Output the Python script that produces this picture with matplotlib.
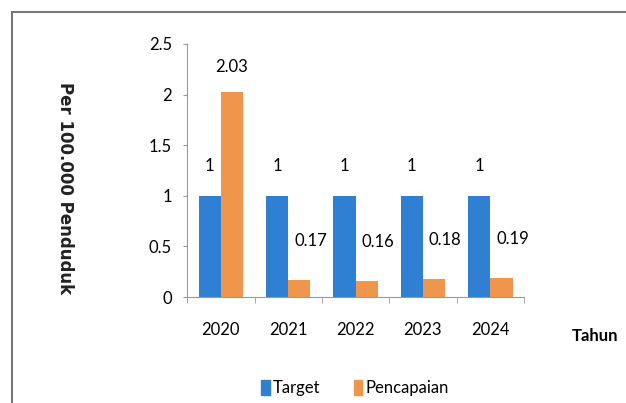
import matplotlib.pyplot as plt
import numpy as np
from matplotlib.patches import Rectangle

years = ['2020', '2021', '2022', '2023', '2024']
target = [1, 1, 1, 1, 1]
pencapaian = [2.03, 0.17, 0.16, 0.18, 0.19]

blue = '#2f80d2'
orange = '#f0964c'
narrow = ['Lato', 'DejaVu Sans']

fig = plt.figure(figsize=(6.26, 4.03), dpi=100)
fig.patches.append(Rectangle((12 / 626, -0.01), 0.99, 1 - 12 / 403 + 0.01,
                             transform=fig.transFigure, fill=False,
                             edgecolor='#777777', lw=1.5))

ax = fig.add_axes([0.299, 0.263, 0.538, 0.628])
x = np.arange(len(years))
w = 0.33
ax.bar(x - w / 2, target, w, color=blue)
ax.bar(x + w / 2, pencapaian, w, color=orange)

for i, v in enumerate(target):
    ax.annotate(f'{v}', (x[i] - w / 2, v), xytext=(0, 16), textcoords='offset points',
                ha='center', va='bottom', fontsize=12, family=narrow)
for i, v in enumerate(pencapaian):
    if v > 1:
        ax.annotate(f'{v:.2f}', (x[i] + w / 2, v), xytext=(0, 12), textcoords='offset points',
                    ha='center', va='bottom', fontsize=12, family=narrow)
    else:
        ax.annotate(f'{v:.2f}', (x[i] + w / 2, v), xytext=(8, 22), textcoords='offset points',
                    ha='center', va='bottom', fontsize=12, family=narrow)

ax.set_xlim(-0.5, 4.5)
ax.set_ylim(0, 2.5)
ax.set_yticks([0, 0.5, 1, 1.5, 2, 2.5])
ax.set_yticklabels(['0', '0.5', '1', '1.5', '2', '2.5'], family=narrow, fontsize=12)
ax.set_xticks(x)
ax.set_xticklabels(years, family=narrow, fontsize=12)
ax.set_xticks(np.arange(-0.5, 5, 1), minor=True)
ax.tick_params(axis='x', which='major', length=0, pad=18)
ax.tick_params(axis='x', which='minor', length=4, color='#999999')
ax.tick_params(axis='y', length=3, color='#999999', pad=8)
for s in ['top', 'right']:
    ax.spines[s].set_visible(False)
ax.spines['left'].set_color('#999999')
ax.spines['bottom'].set_color('#999999')

fig.text(65 / 626, 1 - 188 / 403, 'Per 100.000 Penduduk', rotation=-90,
         ha='center', va='center', fontsize=12, fontweight='bold', color='#222222')
fig.text(595 / 626, 1 - 336 / 403, 'Tahun', ha='center', va='center',
         fontsize=12, fontweight='bold', family=narrow)

handles = [Rectangle((0, 0), 1, 1, color=blue), Rectangle((0, 0), 1, 1, color=orange)]
fig.legend(handles, ['Target', 'Pencapaian'], loc='center', bbox_to_anchor=(355 / 626, 1 - 388 / 403),
           ncol=2, frameon=False, handlelength=0.5, handleheight=1.0, handletextpad=0.2,
           columnspacing=2.0, prop={'family': narrow, 'size': 12})

fig.savefig('out.png', dpi=100)
